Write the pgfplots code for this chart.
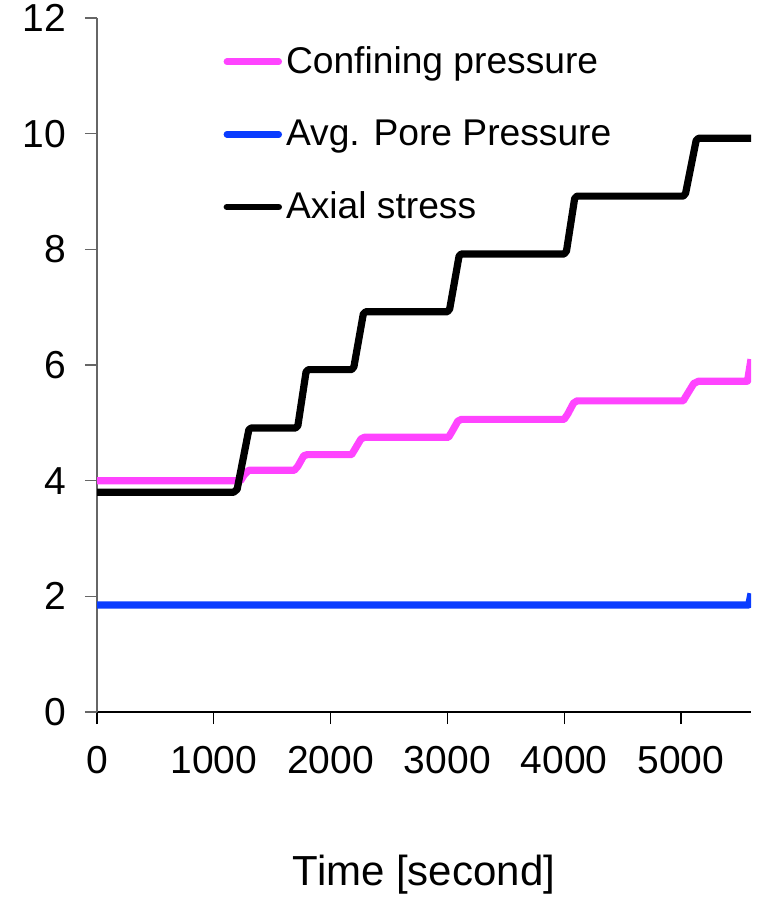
\documentclass[border=0pt]{standalone}
\usepackage{fontspec}
\setmainfont{Liberation Sans}
\usepackage{pgfplots}
\pgfplotsset{compat=1.18}

\definecolor{confining}{HTML}{FF44FF}
\definecolor{pore}{HTML}{0A3CFF}

\begin{document}
\begin{tikzpicture}
\begin{axis}[
  scale only axis,
  width=327pt, height=347pt,
  xmin=0, xmax=5600, ymin=0, ymax=12,
  axis lines*=left,
  x axis line style={black, line width=0.6pt},
  y axis line style={black!60, line width=0.6pt},
  tick align=outside,
  major tick length=6pt,
  xtick={0,1000,2000,3000,4000,5000},
  ytick={0,2,4,6,8,10,12},
  x tick style={black, line width=0.6pt},
  y tick style={black!60, line width=0.6pt},
  /pgf/number format/assume math mode=true,
  /pgf/number format/1000 sep={},
  tick label style={font=\fontsize{19.5}{23}\selectfont},
  yticklabel style={xshift=-6pt},
  xticklabel style={yshift=-7.5pt},
  xlabel={Time [second]},
  xlabel style={font=\fontsize{21}{25}\selectfont, at={(axis description cs:0.5,0)}, anchor=base, yshift=-86.5pt},
  legend style={draw=none, fill=none, at={(rel axis cs:0.193,0.965)}, anchor=north west,
    font=\fontsize{18.6}{22}\selectfont, row sep=17.7pt, inner sep=0pt,
    /tikz/every odd column/.append style={column sep=0pt}},
  legend cell align=left,
  legend image code/.code={\draw[#1, line width=3.2pt, line cap=round] (0pt,0pt) -- (26pt,0pt);},
  every axis plot/.append style={line width=3.6pt, line join=round},
  clip=true,
]
\coordinate (bl) at (rel axis cs:0,0);
\coordinate (tr) at (rel axis cs:1,1);

% confining pressure, stepped up with each load stage
\addplot[confining] coordinates {
  (0,4.00) (1230,4.00) (1260,4.10) (1300,4.18) (1690,4.18) (1720,4.25)
  (1770,4.43) (1800,4.45) (2180,4.45) (2210,4.55) (2260,4.72) (2290,4.75)
  (3010,4.75) (3040,4.85) (3090,5.03) (3120,5.06) (4000,5.06) (4030,5.15)
  (4080,5.34) (4110,5.38) (5020,5.38) (5040,5.45) (5110,5.68) (5150,5.72)
  (5570,5.72) (5600,6.10)
};
\addlegendentry{Confining pressure}

% average pore pressure, held nearly constant
\addplot[pore] coordinates {
  (0,1.85) (5580,1.85) (5600,2.05)
};
\addlegendentry{Avg. Pore Pressure}

% axial stress, 1 MPa steps
\addplot[black] coordinates {
  (0,3.80) (1170,3.80) (1200,3.85) (1300,4.88) (1320,4.91) (1700,4.91)
  (1720,4.95) (1790,5.88) (1810,5.92) (2180,5.92) (2200,5.97) (2280,6.88)
  (2300,6.92) (3000,6.92) (3020,6.97) (3100,7.88) (3120,7.92) (4000,7.92)
  (4020,7.97) (4090,8.88) (4110,8.92) (5020,8.92) (5040,8.97) (5130,9.88)
  (5150,9.92) (5600,9.92)
};
\addlegendentry{Axial stress}
\end{axis}
\pgfresetboundingbox
\path (bl) ++(-48.5pt,-93.5pt) rectangle ([shift={(4pt,9pt)}]tr);
\end{tikzpicture}
\end{document}
